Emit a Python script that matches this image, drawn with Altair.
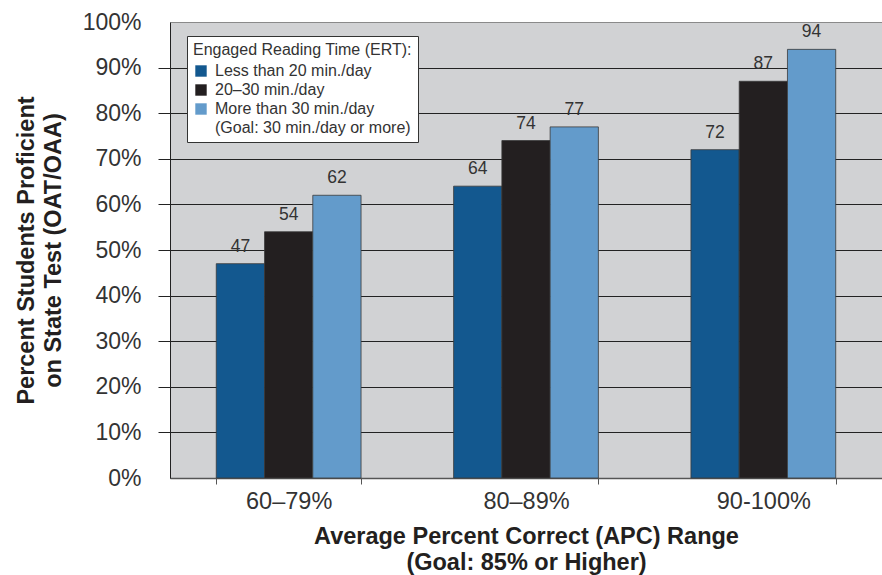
import altair as alt
import pandas as pd

categories = ["60–79%", "80–89%", "90-100%"]
series = ["Less than 20 min./day", "20–30 min./day", "More than 30 min./day"]
goal_note = "(Goal: 30 min./day or more)"
less_than_20 = [47, 64, 72]
between_20_30 = [54, 74, 87]
more_than_30 = [62, 77, 94]
y_ticks = [0, 10, 20, 30, 40, 50, 60, 70, 80, 90, 100]

colors = ["#13588f", "#231f20", "#639bcb", "transparent"]

rows = []
for i, c in enumerate(categories):
    for s, vals in zip(series, [less_than_20, between_20_30, more_than_30]):
        rows.append({"range": c, "ert": s, "value": vals[i]})
df = pd.DataFrame(rows)

FONT = "Liberation Sans"
TXT = "#333333"

x_enc = alt.X(
    "range:N",
    sort=categories,
    scale=alt.Scale(paddingInner=0.39, paddingOuter=0.195),
    axis=alt.Axis(
        title=["Average Percent Correct (APC) Range", "(Goal: 85% or Higher)"],
        titleFontSize=23.5,
        titleFontWeight="bold",
        titleColor="#231f20",
        titleLineHeight=26,
        titlePadding=12,
        labelAngle=0,
        labelFontSize=23.5,
        labelColor=TXT,
        labelPadding=5,
        tickBand="extent",
        tickSize=6,
        tickColor="#555555",
        domainColor="#555555",
        domainWidth=1.5,
        grid=False,
    ),
)
xoff_enc = alt.XOffset("ert:N", sort=series, scale=alt.Scale(paddingInner=0, paddingOuter=0))
y_enc = alt.Y(
    "value:Q",
    scale=alt.Scale(domain=[0, 100], nice=False),
    axis=alt.Axis(
        title=["Percent Students Proficient", "on State Test (OAT/OAA)"],
        titleFontSize=23.5,
        titleFontWeight="bold",
        titleColor="#231f20",
        titleLineHeight=27,
        titlePadding=17,
        values=y_ticks,
        labelExpr="datum.value + '%'",
        labelFontSize=23,
        labelColor=TXT,
        labelPadding=17,
        tickSize=12,
        tickColor={"condition": {"test": "datum.value == 0 || datum.value == 100", "value": "transparent"}, "value": "#222222"},
        grid=True,
        gridColor={"condition": {"test": "datum.value == 100", "value": "#8a8a8a"}, "value": "#222222"},
        gridWidth=1,
        gridOpacity=1,
        domainColor="#222222",
        domainWidth=1,
    ),
)

bars = alt.Chart(df).mark_bar(stroke="#3a3a3a", strokeWidth=0.8).encode(
    x=x_enc,
    xOffset=xoff_enc,
    y=y_enc,
    color=alt.Color(
        "ert:N",
        scale=alt.Scale(domain=series + [goal_note], range=colors),
        legend=alt.Legend(
            title="Engaged Reading Time (ERT):",
            orient="none",
            legendX=17,
            legendY=14,
            titleFontSize=16,
            titleFontWeight="normal",
            titleColor=TXT,
            titleLimit=400,
            titlePadding=5,
            labelFontSize=16,
            labelColor=TXT,
            labelLimit=400,
            labelOffset=6,
            symbolType="square",
            symbolSize=130,
            symbolStrokeWidth=0,
            rowPadding=3,
            padding=6,
            fillColor="white",
            strokeColor="#333333",
        ),
    ),
)

labels = alt.Chart(df).mark_text(
    baseline="middle", dy=-17, fontSize=17.5, color=TXT, font=FONT
).encode(
    x=alt.X("range:N", sort=categories),
    xOffset=alt.XOffset("ert:N", sort=series),
    y="value:Q",
    text="value:Q",
)

chart = (
    alt.layer(bars, labels)
    .properties(
        width=712,
        height=456,
        autosize="none",
        padding={"left": 170, "top": 22, "right": 0, "bottom": 97},
    )
    .configure(font=FONT)
    .configure_view(stroke=None, fill="#d1d2d4")
    .configure_axis(labelFont=FONT, titleFont=FONT)
    .configure_legend(labelFont=FONT, titleFont=FONT)
)

chart.save("out.html", embed_options={"renderer": "svg", "actions": False})
